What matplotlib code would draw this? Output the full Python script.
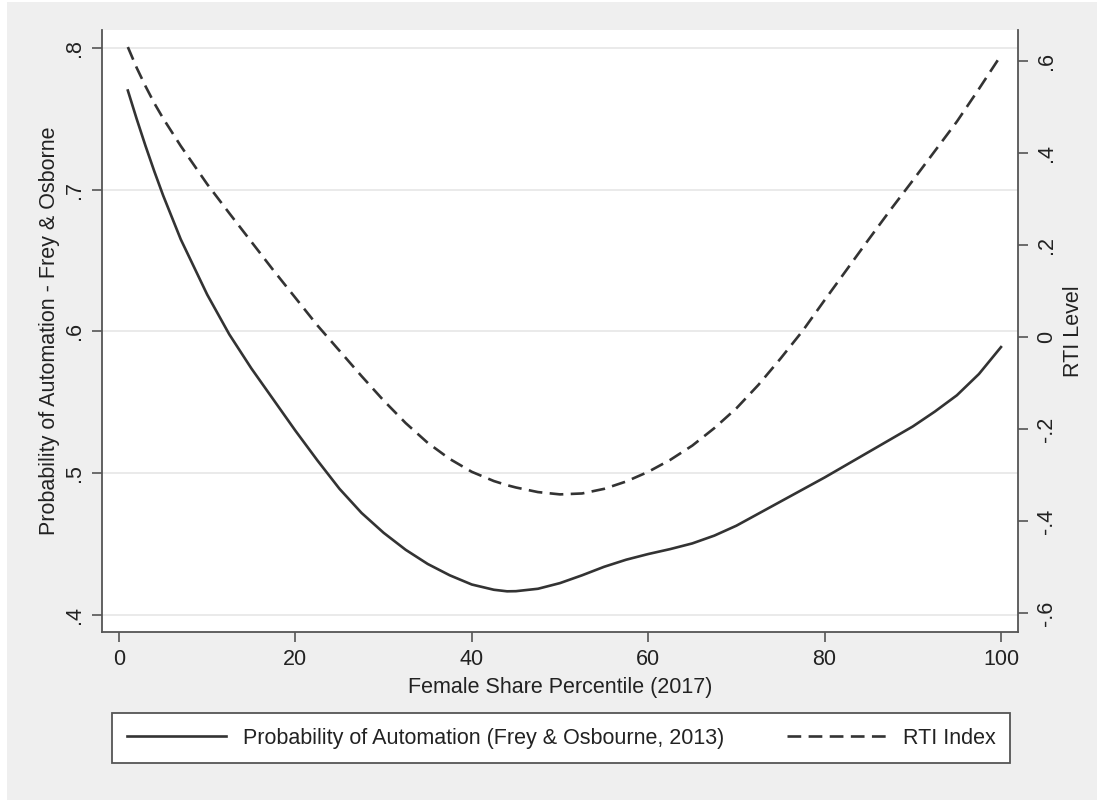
import matplotlib
matplotlib.use('Agg')
import matplotlib.pyplot as plt
from matplotlib.patches import Rectangle

plt.rcParams['font.family'] = ['Liberation Sans', 'DejaVu Sans']

# curves (x = female share percentile)
pct = [1, 2, 3, 4, 5, 7, 10, 12.5, 15, 17.5, 20, 22.5, 25, 27.5, 30, 32.5, 35, 37.5,
       40, 42.5, 44, 45, 47.5, 50, 52.5, 55, 57.5, 60, 62.5, 65, 67.5, 70, 72.5, 75,
       77.5, 80, 82.5, 85, 87.5, 90, 92.5, 95, 97.5, 100]
prob_auto = [.770, .750, .731, .713, .696, .665, .626, .598, .574, .552, .530, .509,
             .489, .472, .458, .446, .436, .428, .4215, .4178, .4167, .4168, .4185, .4225,
             .428, .434, .439, .443, .4465, .4505, .456, .463, .4715, .480, .4885, .497,
             .506, .515, .524, .533, .5435, .555, .570, .589]
rti = [.630, .585, .545, .508, .475, .415, .332, .269, .207, .145, .085, .025, -.030,
       -.085, -.138, -.187, -.230, -.265, -.293, -.313, -.322, -.327, -.337, -.342,
       -.340, -.330, -.314, -.293, -.267, -.236, -.198, -.155, -.104, -.047, .013,
       .080, .146, .212, .277, .340, .404, .468, .539, .612]

x_ticks = [0, 20, 40, 60, 80, 100]
left_ticks = [.4, .5, .6, .7, .8]
left_labels = ['.4', '.5', '.6', '.7', '.8']
right_ticks = [-.6, -.4, -.2, 0, .2, .4, .6]
right_labels = ['-.6', '-.4', '-.2', '0', '.2', '.4', '.6']

W, H = 1104, 800
fig = plt.figure(figsize=(W / 100, H / 100), dpi=100, facecolor='white')
fig.add_artist(Rectangle((7 / W, 0), 1090 / W, 798 / H, transform=fig.transFigure,
                         facecolor='#EFEFEF', edgecolor='none', zorder=-10))

ax = fig.add_axes([102 / W, 168 / H, 916 / W, 602 / H])
ax.set_facecolor('white')
ax2 = ax.twinx()

line_col = '#333333'
spine_col = '#555555'
txt_col = '#222222'
fs = 15.5

l1, = ax.plot(pct, prob_auto, color=line_col, lw=1.9, solid_joinstyle='round')
l2, = ax2.plot(pct, rti, color=line_col, lw=1.9, ls=(0, (5.2, 2.8)))

ax.set_xlim(-1.93, 101.93)
ax.set_ylim(.388, .8127)
ax2.set_ylim(-.641, .667)

ax.set_xticks(x_ticks)
ax.set_yticks(left_ticks)
ax.set_yticklabels(left_labels, rotation=90, va='center')
ax2.set_yticks(right_ticks)
ax2.set_yticklabels(right_labels, rotation=90, va='center')

ax.set_axisbelow(True)
ax.yaxis.grid(True, color='#EAEAEA', lw=1.4)
ax.xaxis.grid(False)

for a in (ax, ax2):
    for s in a.spines.values():
        s.set_color(spine_col)
        s.set_linewidth(1.3)
    a.spines['top'].set_visible(False)
ax.spines['right'].set_visible(False)
ax2.spines['left'].set_visible(False)
ax2.spines['bottom'].set_visible(False)

ax.tick_params(axis='both', length=7, width=1.2, color=spine_col, labelsize=fs,
               labelcolor=txt_col, pad=5)
ax2.tick_params(axis='y', length=7, width=1.2, color=spine_col, labelsize=fs,
                labelcolor=txt_col, pad=6)

ax.set_xlabel('Female Share Percentile (2017)', fontsize=fs, color=txt_col, labelpad=5)
ax.set_ylabel('Probability of Automation - Frey & Osborne', fontsize=fs, color=txt_col,
              labelpad=3)
ax2.set_ylabel('RTI Level', fontsize=fs, color=txt_col, labelpad=4)

leg = fig.legend([l1, l2], ['Probability of Automation (Frey & Osbourne, 2013)', 'RTI Index'],
                 loc='upper left', bbox_to_anchor=(112 / W, 1 - 713 / H), ncol=2,
                 frameon=True, fancybox=False, edgecolor=spine_col, framealpha=1,
                 handlelength=4.6, handletextpad=0.8, columnspacing=2.9,
                 borderpad=0.68, borderaxespad=0, fontsize=fs)
leg.get_frame().set_linewidth(1.3)
for t in leg.get_texts():
    t.set_color(txt_col)

fig.savefig('out.png', dpi=100, facecolor=fig.get_facecolor())
